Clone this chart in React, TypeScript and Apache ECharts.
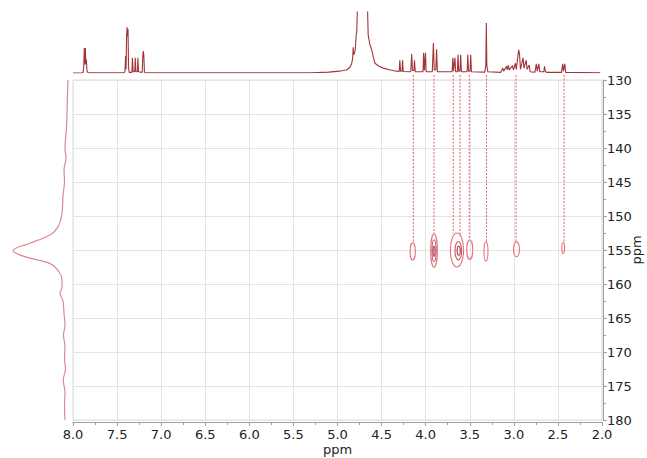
import React, { useEffect, useRef } from "react";
import * as echarts from "echarts";

// 1H projection (top): [ppm, intensity]
const protonSpectrum: [number, number][] = [
  [8.0, 0], [7.9, 0], [7.885, 1], [7.878, 12], [7.872, 41], [7.866, 14], [7.86, 41], [7.854, 14], [7.848, 22], [7.842, 4], [7.83, 0.5],
  [7.42, 0.5], [7.41, 3], [7.404, 28], [7.398, 6], [7.392, 62], [7.386, 75], [7.381, 60], [7.376, 72], [7.37, 8], [7.362, 1],
  [7.332, 1], [7.326, 25], [7.318, 2], [7.3, 2], [7.294, 25], [7.287, 2], [7.27, 2], [7.264, 25], [7.257, 2],
  [7.215, 1], [7.208, 30], [7.203, 36], [7.197, 30], [7.19, 2], [7.18, 0.5],
  [5.3, 0.5], [5.1, 1.5], [4.98, 3], [4.9, 5], [4.86, 9], [4.84, 15], [4.828, 24], [4.822, 42], [4.816, 30], [4.8, 36], [4.788, 62], [4.782, 66], [4.772, 120], [4.766, 200],
  [4.668, 200], [4.66, 110], [4.652, 62], [4.635, 48], [4.612, 38], [4.59, 24], [4.575, 16], [4.53, 11], [4.48, 8], [4.4, 5], [4.33, 3],
  [4.3, 2.5], [4.293, 21], [4.285, 3], [4.268, 3], [4.262, 21], [4.255, 2.5],
  [4.17, 2], [4.158, 31], [4.15, 4], [4.133, 4], [4.127, 21], [4.118, 2],
  [4.03, 2], [4.023, 33], [4.015, 4], [4.008, 4], [4.002, 33], [3.995, 2],
  [3.925, 2], [3.912, 49], [3.903, 5], [3.885, 5], [3.876, 39], [3.867, 2],
  [3.7, 2], [3.692, 25], [3.684, 3], [3.676, 3], [3.668, 25], [3.66, 2],
  [3.64, 2], [3.633, 30], [3.625, 3], [3.611, 3], [3.603, 30], [3.595, 2],
  [3.53, 2], [3.522, 30], [3.514, 3], [3.497, 3], [3.489, 30], [3.481, 2],
  [3.33, 1.5], [3.318, 12], [3.312, 82], [3.306, 12], [3.295, 2],
  [3.15, 1], [3.125, 8], [3.115, 3], [3.085, 11], [3.075, 5], [3.063, 13], [3.052, 5], [3.015, 12], [3.005, 5], [2.982, 16], [2.972, 6],
  [2.945, 38], [2.935, 30], [2.925, 6], [2.895, 25], [2.885, 8], [2.86, 21], [2.85, 6], [2.825, 13], [2.815, 2],
  [2.76, 1.5], [2.745, 15], [2.735, 3], [2.716, 15], [2.706, 2], [2.66, 2], [2.652, 11], [2.642, 2], [2.62, 1],
  [2.46, 1], [2.445, 15], [2.437, 3], [2.422, 15], [2.412, 1], [2.02, 0.5],
];

// 13C projection (left): [ppm, intensity]
const carbonProjection: [number, number][] = [
  [130, 2], [132, 2.5], [134.9, 3], [137, 3.5], [140, 5], [141.5, 4], [143.2, 6], [145, 5.5], [147, 7], [149.6, 8],
  [151.6, 12], [152.8, 20], [154.0, 40], [154.6, 52], [155.15, 57], [155.6, 52], [156.2, 40], [157.0, 20], [158.2, 11],
  [159.4, 8], [160.5, 8], [161.3, 10], [162.5, 7], [164.3, 6], [166, 5], [167.5, 6.5], [169.2, 5], [171, 5.5],
  [172.5, 4.5], [174.1, 6.7], [176, 5], [178, 5.5], [180, 5],
];

// Cross-peak contours: centre (1H, 13C), extent (1H width, 13C height), contour level
const contourH = [4.147, 3.905, 3.905, 3.905, 3.645, 3.63, 3.625, 3.5, 3.316, 2.97, 2.44];
const contourC = [155.2, 155.1, 155.1, 155.2, 155.0, 155.1, 155.1, 154.95, 155.2, 154.9, 154.7];
const contourWidth = [0.06, 0.075, 0.045, 0.022, 0.15, 0.075, 0.035, 0.068, 0.045, 0.068, 0.03];
const contourHeight = [2.55, 4.9, 3.2, 1.5, 5.0, 2.7, 1.3, 2.85, 2.8, 2.2, 1.6];
const contourLevel = [0, 0, 1, 2, 0, 1, 2, 0, 0, 0, 0];

// Correlation guide lines: 1H position and 13C end
const guideH = [4.14, 3.905, 3.687, 3.61, 3.505, 3.31, 2.975, 2.43];
const guideEnd = [153.8, 152.7, 152.5, 153.0, 153.5, 153.8, 153.8, 153.9];

const xTicks = { min: 2, max: 8, interval: 0.5 };
const yTicks = { min: 130, max: 180, interval: 5 };

const levelColors = ["#e8707c", "#cf5666", "#9c3a48"];

export default function App() {
  const ref = useRef<HTMLDivElement>(null);
  useEffect(() => {
    if (!ref.current) return;
    const chart = echarts.init(ref.current, undefined, { renderer: "svg" });
    const font = "DejaVu Sans";
    const contourData = contourH.map((h, i) => [h, contourC[i], contourWidth[i], contourHeight[i], contourLevel[i]]);
    const guideData = guideH.map((h, i) => [h, guideEnd[i]]);
    chart.setOption({
      animation: false,
      backgroundColor: "#ffffff",
      grid: [
        { left: 73, right: 45, top: 80, bottom: 38, show: true, borderColor: "#dcdcdc", borderWidth: 1, backgroundColor: "transparent", outerBoundsMode: "none", containLabel: false },
        { left: 73, right: 45, top: 12, height: 61, outerBoundsMode: "none", containLabel: false },
        { left: 10, width: 60, top: 80, bottom: 38, outerBoundsMode: "none", containLabel: false },
      ],
      xAxis: [
        {
          gridIndex: 0, type: "value", inverse: true, min: xTicks.min, max: xTicks.max, interval: xTicks.interval,
          position: "bottom", offset: 2,
          name: "ppm", nameLocation: "middle", nameGap: 21, nameMoveOverlap: false,
          nameTextStyle: { fontFamily: font, fontSize: 13, color: "#222", lineHeight: 13 },
          axisLine: { show: true, lineStyle: { color: "#a0a0a0", width: 1 } },
          axisTick: { show: true, length: 4, lineStyle: { color: "#a0a0a0" } },
          minorTick: { show: true, splitNumber: 2, length: 3, lineStyle: { color: "#a0a0a0" } },
          axisLabel: { fontFamily: font, fontSize: 13, color: "#222", margin: 6, lineHeight: 13, formatter: (v: number) => v.toFixed(1) },
          splitLine: { show: true, lineStyle: { color: "#e4e4e4", width: 1 } },
        },
        { gridIndex: 1, type: "value", inverse: true, min: xTicks.min, max: xTicks.max, show: false },
        { gridIndex: 2, type: "value", inverse: true, min: 0, max: 60, show: false },
      ],
      yAxis: [
        {
          gridIndex: 0, type: "value", inverse: true, min: yTicks.min, max: yTicks.max, interval: yTicks.interval,
          position: "right", offset: 1,
          name: "ppm", nameLocation: "middle", nameGap: 33, nameRotate: 90, nameMoveOverlap: false,
          nameTextStyle: { fontFamily: font, fontSize: 13, color: "#222", verticalAlign: "middle", align: "center" },
          axisLine: { show: true, lineStyle: { color: "#a0a0a0", width: 1 } },
          axisTick: { show: true, length: 4, lineStyle: { color: "#a0a0a0" } },
          minorTick: { show: true, splitNumber: 2, length: 3, lineStyle: { color: "#a0a0a0" } },
          axisLabel: { fontFamily: font, fontSize: 13, color: "#222", margin: 4 },
          splitLine: { show: true, lineStyle: { color: "#e4e4e4", width: 1 } },
        },
        { gridIndex: 1, type: "value", min: 0, max: 100, show: false },
        { gridIndex: 2, type: "value", inverse: true, min: yTicks.min, max: yTicks.max, show: false },
      ],
      series: [
        {
          type: "line", xAxisIndex: 1, yAxisIndex: 1, data: protonSpectrum, showSymbol: false, symbol: "none",
          lineStyle: { color: "#a2343a", width: 1.1 }, clip: true, silent: true,
        },
        {
          type: "line", xAxisIndex: 2, yAxisIndex: 2, data: carbonProjection.map((p) => [p[1], p[0]]),
          showSymbol: false, symbol: "none", smooth: 0.3,
          lineStyle: { color: "#d98a90", width: 1.2 }, clip: true, silent: true,
        },
        {
          type: "custom", xAxisIndex: 0, yAxisIndex: 0, data: guideData, clip: false, silent: true,
          renderItem: (params: any, api: any) => {
            const top = api.coord([api.value(0), yTicks.min]);
            const end = api.coord([api.value(0), api.value(1)]);
            return {
              type: "line",
              shape: { x1: top[0], y1: top[1] - 5, x2: end[0], y2: end[1] },
              style: { stroke: "#e5606c", lineWidth: 1, lineDash: [2, 1.5] },
            };
          },
        },
        {
          type: "custom", xAxisIndex: 0, yAxisIndex: 0, data: contourData, clip: false, silent: true,
          renderItem: (params: any, api: any) => {
            const c = api.coord([api.value(0), api.value(1)]);
            const s = api.size([api.value(2), api.value(3)]);
            return {
              type: "ellipse",
              shape: { cx: c[0], cy: c[1], rx: Math.abs(s[0]) / 2, ry: Math.abs(s[1]) / 2 },
              style: { fill: "none", stroke: levelColors[api.value(4)], lineWidth: 1.1 },
            };
          },
        },
      ],
    });
    return () => chart.dispose();
  }, []);
  return <div ref={ref} style={{ position: "fixed", left: 0, top: 0, width: 647, height: 458 }} />;
}
